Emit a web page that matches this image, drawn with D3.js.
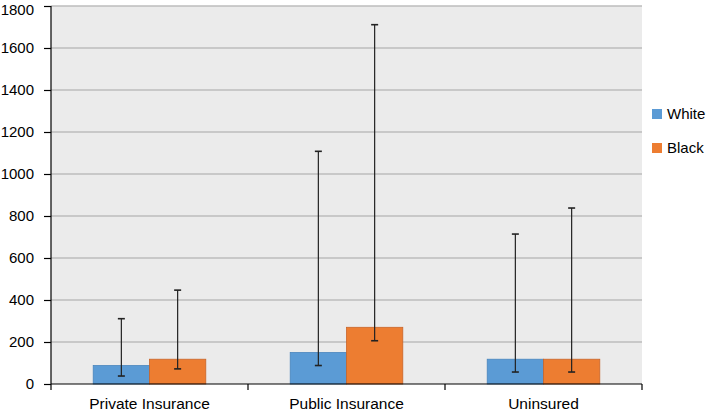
<!DOCTYPE html>
<html><head><meta charset="utf-8">
<script src="https://cdn.jsdelivr.net/npm/d3@7"></script>
<style>body{margin:0;background:#fff}svg text{font-family:"Liberation Sans",Arial,sans-serif;fill:#000}</style>
</head><body><svg id="c" width="709" height="413"></svg>
<script>
const categories = ["Private Insurance","Public Insurance","Uninsured"];
const seriesNames = ["White","Black"];
const seriesColors = ["#5B9BD5","#ED7D31"];
const seriesStroke = ["#4a86bd","#c9652a"];
const whiteValues = [88, 150, 118];
const blackValues = [118, 270, 118];
const whiteLow = [38, 88, 57];
const whiteHigh = [311, 1108, 714];
const blackLow = [72, 206, 57];
const blackHigh = [447, 1711, 838];
const yTicks = [0,200,400,600,800,1000,1200,1400,1600,1800];

const svg = d3.select("#c");
const L=51, R=642, T=6, B=384;
const x = d3.scaleBand().domain(categories).range([L,R]).paddingInner(0).paddingOuter(0);
const y = d3.scaleLinear().domain([0,1800]).range([B,T]);
const bw = x.bandwidth()/3.5;

svg.append("rect").attr("x",L).attr("y",T).attr("width",R-L).attr("height",B-T).attr("fill","#EBEBEB");
svg.append("g").selectAll("line").data(yTicks.filter(d=>d>0)).join("line")
  .attr("x1",L).attr("x2",R).attr("y1",d=>y(d)).attr("y2",d=>y(d))
  .attr("stroke","#BDBDBD").attr("stroke-width",1.3);

const data = categories.map((c,i)=>[
  {c, s:0, v:whiteValues[i], lo:whiteLow[i], hi:whiteHigh[i]},
  {c, s:1, v:blackValues[i], lo:blackLow[i], hi:blackHigh[i]}
]).flat();
const bx = d => x(d.c) + x.bandwidth()/2 - bw + d.s*bw;

svg.append("g").selectAll("rect").data(data).join("rect")
  .attr("x",bx).attr("width",bw)
  .attr("y",d=>y(d.v)).attr("height",d=>y(0)-y(d.v))
  .attr("fill",d=>seriesColors[d.s]).attr("stroke",d=>seriesStroke[d.s]).attr("stroke-width",0.8);

const eb = svg.append("g").attr("stroke","#222").attr("stroke-width",1.2);
data.forEach(d=>{
  const cx = bx(d)+bw/2;
  eb.append("line").attr("x1",cx).attr("x2",cx).attr("y1",y(d.hi)).attr("y2",y(d.lo));
  [d.hi,d.lo].forEach(v=>eb.append("line").attr("x1",cx-3.5).attr("x2",cx+3.5).attr("y1",y(v)).attr("y2",y(v)).attr("stroke-width",1.6));
});

// y axis
const ya = svg.append("g").attr("transform",`translate(${L},0)`)
  .call(d3.axisLeft(y).tickValues(yTicks).tickSize(7).tickPadding(10).tickFormat(d3.format("d")));
ya.select(".domain").attr("stroke","#000").attr("stroke-width",1.2).attr("d",`M-0,${T}V${B}`);
ya.selectAll(".tick line").attr("stroke","#000").attr("stroke-width",1.2);
ya.selectAll("text").attr("font-size","15px").attr("font-family","Liberation Sans, Arial, sans-serif");
ya.selectAll(".tick").filter(d=>d===1800).select("text").attr("dy","0.55em");

// x axis
const xa = svg.append("g").attr("transform",`translate(0,${B})`);
xa.append("line").attr("x1",L).attr("x2",R).attr("stroke","#000").attr("stroke-width",1.2);
const bounds = categories.map(c=>x(c)).concat([R]);
xa.selectAll("line.t").data(bounds).join("line").attr("class","t")
  .attr("x1",d=>d).attr("x2",d=>d).attr("y1",0).attr("y2",6).attr("stroke","#000").attr("stroke-width",1.2);
xa.selectAll("text").data(categories).join("text")
  .attr("x",d=>x(d)+x.bandwidth()/2).attr("y",25).attr("text-anchor","middle")
  .attr("font-size","15.5px").text(d=>d);

// legend
const lg = svg.append("g");
seriesNames.forEach((n,i)=>{
  const yy = 109 + i*34;
  lg.append("rect").attr("x",652).attr("y",yy).attr("width",10).attr("height",10).attr("fill",seriesColors[i]);
  lg.append("text").attr("x",667).attr("y",yy+10).attr("font-size","15px").text(n);
});
</script></body></html>
